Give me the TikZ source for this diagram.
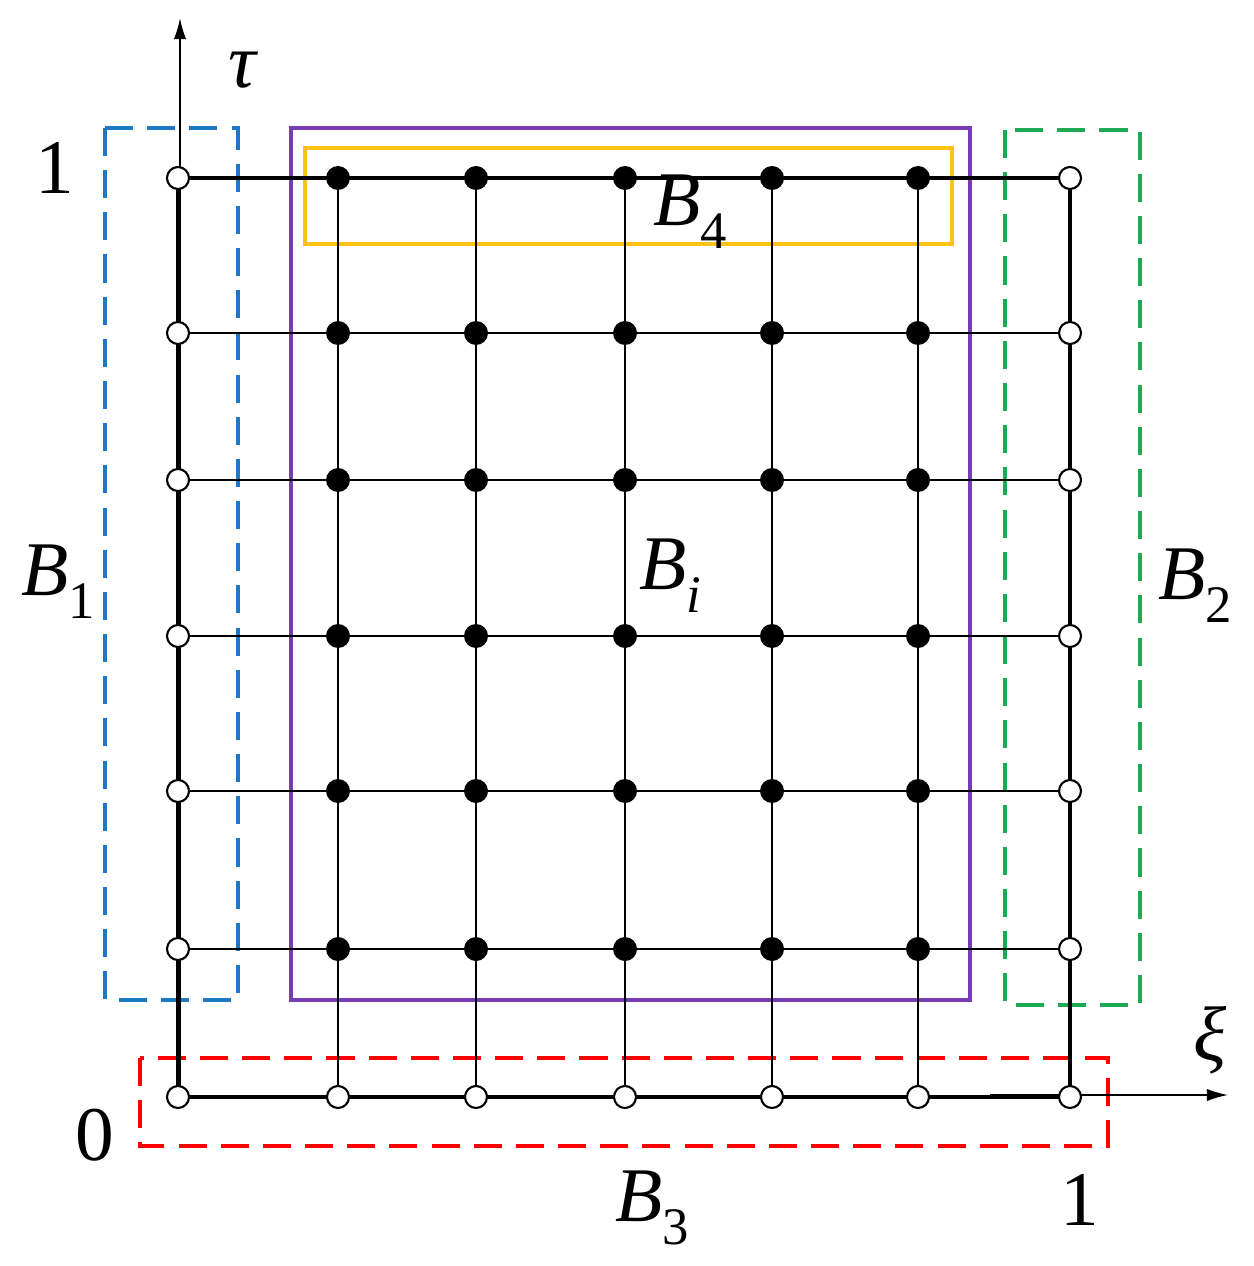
\documentclass[tikz,border=0pt]{standalone}
\usepackage{fontspec}
\setmainfont{Liberation Serif}
\usetikzlibrary{arrows.meta}
\definecolor{bblue}{RGB}{30,120,200}
\definecolor{bgreen}{RGB}{30,170,80}
\definecolor{bpurple}{RGB}{120,60,180}
\definecolor{byellow}{RGB}{250,195,20}
\newcommand{\Bsub}[1]{\textit{B}\raisebox{-0.3em}{\fontsize{30}{36}\selectfont #1}}
\begin{document}
\begin{tikzpicture}[x=0.02cm,y=-0.02cm,
  op/.style={circle,draw,fill=white,line width=1.2pt,inner sep=0pt,minimum size=0.44cm},
  cl/.style={circle,fill=black,inner sep=0pt,minimum size=0.48cm},
  gl/.style={line width=1.5pt},
  ol/.style={line width=2.2pt},
  bx/.style={line width=2pt,dash pattern=on 16pt off 8pt},
  lab/.style={font=\fontsize{44}{52}\selectfont}]
\useasboundingbox (0,0) rectangle (1253,1266);
\def\xs{{178,338,476,625,772,918,1070}}
\def\ys{{178,333,480,636,791,949,1097}}
% boxes
\draw[bx,bblue] (105,128) rectangle (238,1000);
\draw[bx,bgreen] (1005,130) rectangle (1140,1005);
\draw[bx,red] (140,1058) rectangle (1108,1146);
\draw[bpurple,line width=2pt] (291,128) rectangle (970,1000);
\draw[byellow,line width=2pt] (305,148) rectangle (952,244);
% axes
\draw[line width=1pt,-{Latex[length=12pt,width=7pt]}] (180,1100) -- (180,18);
\draw[line width=1pt,-{Latex[length=12pt,width=7pt]}] (990,1095) -- (1228,1095);
% nodes
\foreach \i in {0,...,6}{\foreach \j in {0,...,6}{
  \pgfmathsetmacro\xx{\xs[\i]}\pgfmathsetmacro\yy{\ys[\j]}
  \coordinate (p\i\j) at (\xx,\yy);}}
% lines
\foreach \j in {1,...,5}{\draw[gl] (p0\j) -- (p6\j);}
\foreach \i in {1,...,5}{\draw[gl] (p\i0) -- (p\i6);}
\draw[ol] (p00) -- (p60) -- (p66) -- (p06) -- cycle;
\foreach \i in {0,...,6}{\foreach \j in {0,...,6}{
  \ifnum\i=0 \node[op] (n\i\j) at (p\i\j) {};
  \else\ifnum\i=6 \node[op] (n\i\j) at (p\i\j) {};
  \else\ifnum\j=6 \node[op] (n\i\j) at (p\i\j) {};
  \else \node[cl] (n\i\j) at (p\i\j) {};
  \fi\fi\fi}}
% labels
\node[lab] (tau) at (243,70) {\textit{τ}};
\node[lab] (one1) at (55,168) {1};
\node[lab] (zero) at (95,1135) {0};
\node[lab] (one2) at (1080,1200) {1};
\node[lab] (xi) at (1210,1040) {\textit{ξ}};
\node[lab] (b1) at (58,582) {\Bsub{1}};
\node[lab] (b2) at (1195,586) {\Bsub{2}};
\node[lab] (b3) at (652,1208) {\Bsub{3}};
\node[lab] (b4) at (690,212) {\Bsub{4}};
\node[lab] (bi) at (670,576) {\Bsub{\textit{i}}};
\end{tikzpicture}
\end{document}
